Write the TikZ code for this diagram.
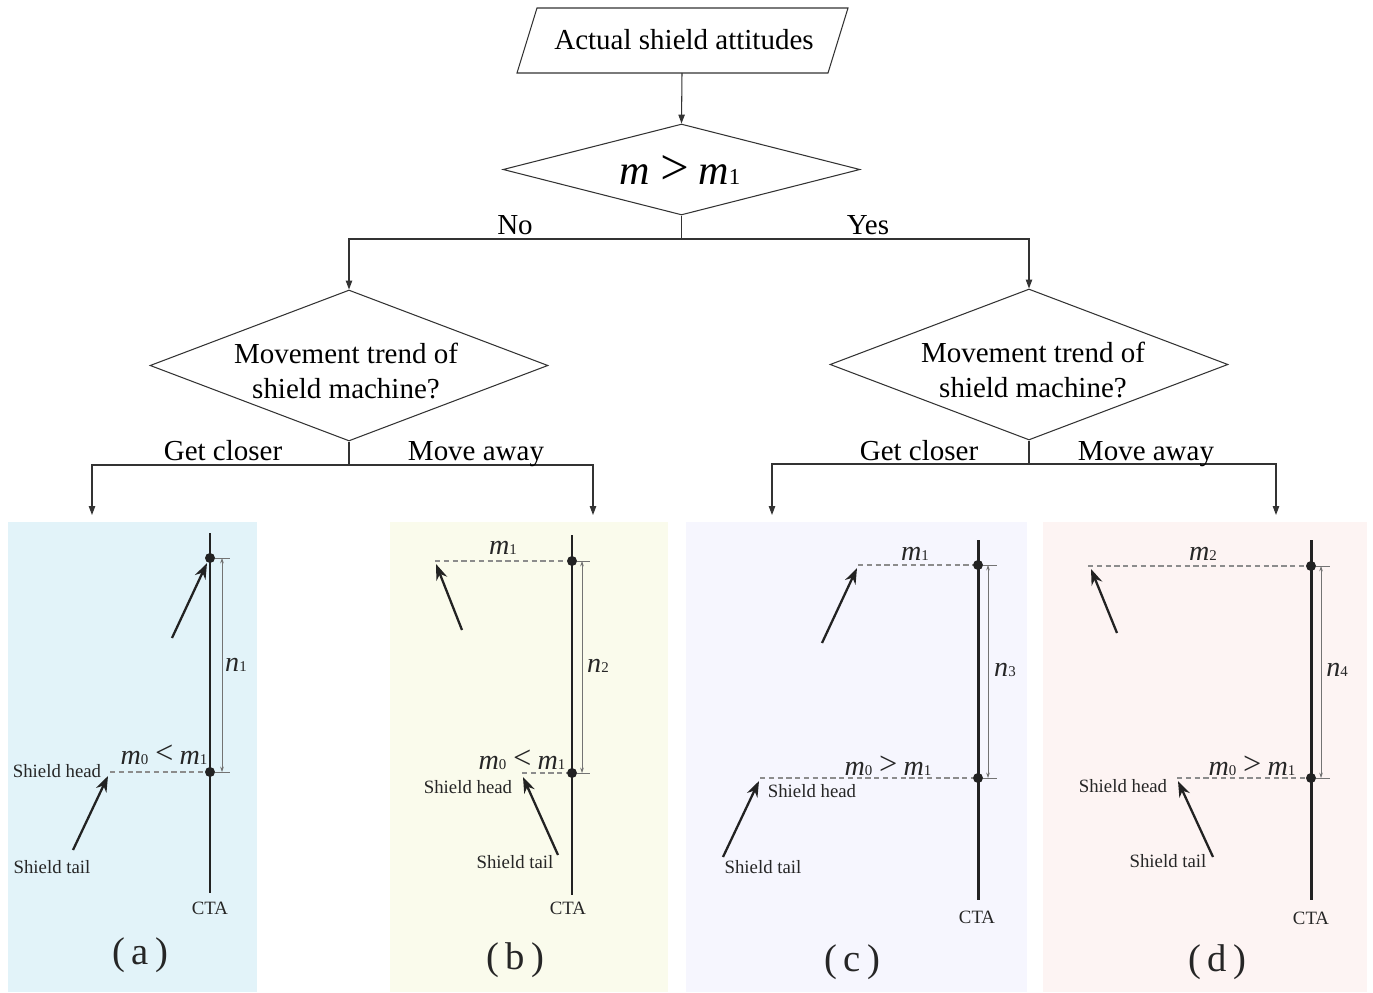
\documentclass[tikz,border=0pt]{standalone}
\usepackage{fontspec}
\setmainfont{Liberation Serif}
\usetikzlibrary{shapes.geometric,arrows.meta}
\definecolor{pa}{HTML}{E2F3F9}
\definecolor{pb}{HTML}{FAFBEC}
\definecolor{pc}{HTML}{F6F6FE}
\definecolor{pd}{HTML}{FDF4F3}
\definecolor{ink}{HTML}{222222}
\newcommand\sub[1]{{\fontsize{8.5}{9}\selectfont\upshape #1}}
\newcommand\bsub[1]{{\fontsize{13}{13}\selectfont\upshape #1}}
\newcommand\lt{\,\raisebox{0.3pt}{\scalebox{1.15}{<}}\,}
\newcommand\gt{\,\raisebox{0.3pt}{\scalebox{1.15}{>}}\,}
\begin{document}
\begin{tikzpicture}[x=0.02cm,y=-0.02cm,
  flow/.style={draw=black!80, line width=0.6pt},
  arr/.style={flow, -{Triangle[length=5pt,width=3.6pt]}},
  dia/.style={diamond, draw=black!80, line width=0.6pt, inner sep=1pt},
  ftxt/.style={font=\fontsize{16.5}{20}\selectfont, align=center, inner sep=0pt},
  cta/.style={draw=ink, line width=1.7pt},
  dot/.style={circle, fill=ink, inner sep=0pt, minimum size=0.2cm},
  tickln/.style={draw=black!55, line width=0.35pt},
  dimln/.style={draw=black!55, line width=0.35pt, {Stealth[length=3pt,width=2pt]}-{Stealth[length=3pt,width=2pt]}},
  dsh/.style={draw=black!45, line width=0.6pt, dash pattern=on 3pt off 2pt},
  bigarr/.style={draw=ink, line width=1.3pt, -{Stealth[length=9pt,width=6.5pt]}},
  sm/.style={font=\fontsize{10.7}{12}\selectfont, inner sep=0pt, text=black!85},
  lab/.style={font=\fontsize{16}{18}\selectfont\itshape, inner sep=0pt, text=black!85},
  big/.style={font=\fontsize{22}{24}\selectfont, inner sep=0pt, text=black!85}
]
\useasboundingbox (0,0) rectangle (1373,993);

% ---------- flowchart ----------
\node[ftxt] (in) at (684,40) {Actual shield attitudes};
\draw[flow] (517,73) -- (537,8) -- (848,8) -- (828,73) -- cycle;
\coordinate (inb) at (682,73);

\node[dia, minimum width=7.14cm, minimum height=1.82cm] (d1) at (681.5,169.5) {};
\node[font=\fontsize{24}{26}\selectfont\itshape, inner sep=0pt] at (680,170) {m\,\raisebox{0.5pt}{\scalebox{1.2}{>}}\,m\bsub{1}};

\node[dia, minimum width=7.96cm, minimum height=3.02cm] (d2) at (349,365.5) {};
\node[ftxt] at (346,371) {Movement trend of\\shield machine?};
\node[dia, minimum width=7.96cm, minimum height=3.02cm] (d3) at (1029,364.5) {};
\node[ftxt] at (1033,370) {Movement trend of\\shield machine?};

\draw[arr] (inb) -- (d1.north);
\coordinate (j1) at (681.5,239);
\draw[flow] (d1.south) -- (j1);
\draw[arr] (j1) -| (d2.north);
\draw[arr] (j1) -| (d3.north);
\node[ftxt, anchor=base] at (515,235) {No};
\node[ftxt, anchor=base] at (868,235) {Yes};

\coordinate (j2) at (349,465);
\coordinate (ea) at (92,515);
\coordinate (eb) at (593,515);
\draw[flow] (d2.south) -- (j2);
\draw[arr] (j2) -| (ea);
\draw[arr] (j2) -| (eb);
\node[ftxt, anchor=base] at (223,460) {Get closer};
\node[ftxt, anchor=base] at (476,460) {Move away};

\coordinate (j3) at (1029,464);
\coordinate (ec) at (772,515);
\coordinate (ed) at (1276,515);
\draw[flow] (d3.south) -- (j3);
\draw[arr] (j3) -| (ec);
\draw[arr] (j3) -| (ed);
\node[ftxt, anchor=base] at (919,460) {Get closer};
\node[ftxt, anchor=base] at (1146,460) {Move away};

% ---------- panel (a) ----------
\fill[pa] (8,522) rectangle (257,992);
\draw[cta] (210,533) -- (210,893);
\node[dot] (pa1) at (210,558) {};
\node[dot] (pa0) at (210,772) {};
\draw[tickln] (pa1) -- (230,558);
\draw[tickln] (pa0) -- (230,772);
\draw[dimln] (222,558) -- (222,772);
\node[lab] at (236,665) {n\sub{1}};
\draw[dsh] (110,772) -- (pa0);
\draw[bigarr] (172,638) -- (207,563);
\draw[bigarr] (73,850) -- (108,776);
\node[lab] at (164,755) {m\sub{0}\lt m\sub{1}};
\node[sm] at (57,771) {Shield head};
\node[sm] at (52,867) {Shield tail};
\node[sm] at (210,908) {CTA};
\node[big] at (140,955) {(\,a\,)};

% ---------- panel (b) ----------
\fill[pb] (390,522) rectangle (668,992);
\draw[cta] (572,535) -- (572,895);
\node[dot] (pb1) at (572,561) {};
\node[dot] (pb0) at (572,773) {};
\draw[tickln] (pb1) -- (590,561);
\draw[tickln] (pb0) -- (590,773);
\draw[dimln] (582,561) -- (582,773);
\node[lab] at (598,666) {n\sub{2}};
\draw[dsh] (435,561) -- (pb1);
\draw[dsh] (522,773) -- (pb0);
\node[lab] at (503,548) {m\sub{1}};
\draw[bigarr] (462,630) -- (436,564);
\draw[bigarr] (558,855) -- (523,777);
\node[lab] at (522,760) {m\sub{0}\lt m\sub{1}};
\node[sm] at (468,787) {Shield head};
\node[sm] at (515,862) {Shield tail};
\node[sm] at (568,908) {CTA};
\node[big] at (515,960) {(\,b\,)};

% ---------- panel (c) ----------
\fill[pc] (686,522) rectangle (1027,992);
\draw[cta] (978,540) -- (978,900);
\node[dot] (pc1) at (978,565) {};
\node[dot] (pc0) at (978,778) {};
\draw[tickln] (pc1) -- (997,565);
\draw[tickln] (pc0) -- (997,778);
\draw[dimln] (988,565) -- (988,778);
\node[lab] at (1005,670) {n\sub{3}};
\draw[dsh] (858,565) -- (pc1);
\draw[dsh] (760,778) -- (pc0);
\node[lab] at (915,554) {m\sub{1}};
\draw[bigarr] (822,643) -- (857,568);
\draw[bigarr] (723,857) -- (759,781);
\node[lab] at (888,766) {m\sub{0}\gt m\sub{1}};
\node[sm] at (812,791) {Shield head};
\node[sm] at (763,867) {Shield tail};
\node[sm] at (977,917) {CTA};
\node[big] at (852,962) {(\,c\,)};

% ---------- panel (d) ----------
\fill[pd] (1043,522) rectangle (1367,992);
\draw[cta] (1311,540) -- (1311,900);
\node[dot] (pd1) at (1311,566) {};
\node[dot] (pd0) at (1311,778) {};
\draw[tickln] (pd1) -- (1330,566);
\draw[tickln] (pd0) -- (1330,778);
\draw[dimln] (1321,566) -- (1321,778);
\node[lab] at (1337,670) {n\sub{4}};
\draw[dsh] (1088,566) -- (pd1);
\draw[dsh] (1177,778) -- (pd0);
\node[lab] at (1203,554) {m\sub{2}};
\draw[bigarr] (1117,633) -- (1091,569);
\draw[bigarr] (1213,857) -- (1178,781);
\node[lab] at (1252,766) {m\sub{0}\gt m\sub{1}};
\node[sm] at (1123,786) {Shield head};
\node[sm] at (1168,861) {Shield tail};
\node[sm] at (1311,918) {CTA};
\node[big] at (1217,962) {(\,d\,)};
\end{tikzpicture}
\end{document}
